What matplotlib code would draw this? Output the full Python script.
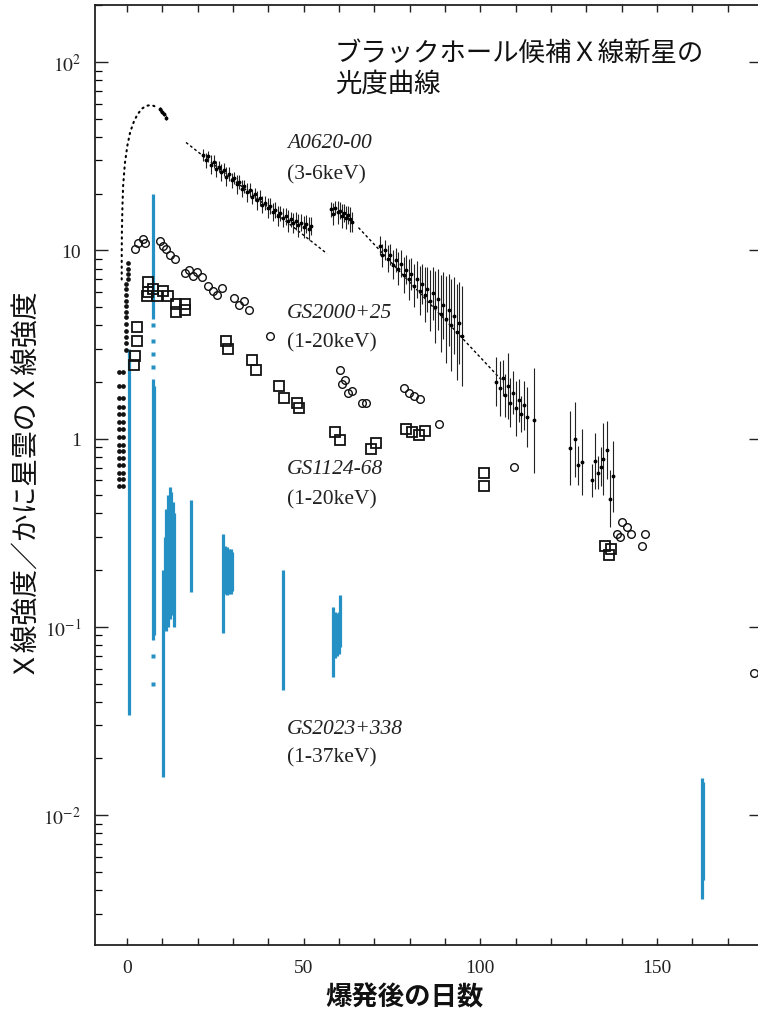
import numpy as np
import matplotlib
matplotlib.use("Agg")
import matplotlib.pyplot as plt
from matplotlib.ticker import FixedLocator, FixedFormatter, LogLocator, NullFormatter

plt.rcParams["font.family"] = ["Liberation Serif", "DejaVu Serif"]
plt.rcParams["mathtext.fontset"] = "stix"

JP = ["Noto Sans CJK JP", "DejaVu Sans"]
BLUE = "#2490c4"

# ---------------- A0620-00 (3-6 keV) ----------------
a0620_rise_day = [-1.5, -1.5, -1.45, -1.3, -1.1, -0.6, 0.1, 0.9, 1.9, 2.9, 4.2, 5.4, 6.5, 7.6, 8.6]
a0620_rise_flux = [7.0, 9.5, 12.5, 17.0, 22.0, 29.0, 36.0, 42.5, 48.0, 52.5, 56.5, 58.5, 59.0, 58.5, 57.0]

a0620_fit1_day = [16.7, 56.6]
a0620_fit1_flux = [37.4, 9.6]
a0620_fit2_day = [65.5, 106.5]
a0620_fit2_flux = [13.2, 2.0]

a0620_day = [
    9.3, 9.9, 10.5, 11.1,
    21.5, 22.3, 23.0, 23.8, 24.5, 25.2, 26.0, 26.7, 27.4, 28.1, 28.9, 29.6, 30.3, 31.0,
    31.8, 32.5, 33.2, 34.0, 34.7, 35.4, 36.1, 36.9, 37.6, 38.3, 39.0, 39.8, 40.5, 41.2,
    42.0, 42.7, 43.4, 44.1, 44.9, 45.6, 46.3, 47.0, 47.8, 48.5, 49.2, 50.0, 50.7, 51.4, 52.1,
    57.8, 58.4, 59.0, 59.6, 60.2, 60.8, 61.4, 62.0, 62.6, 63.2, 63.8,
    71.5, 72.3, 73.0, 73.8, 74.5, 75.3, 76.0, 76.8, 77.5, 78.3, 79.0, 79.8, 80.5, 81.3,
    82.0, 82.8, 83.5, 84.3, 85.0, 85.8, 86.5, 87.3, 88.0, 88.8, 89.5, 90.3, 91.0, 91.8,
    92.5, 93.3, 94.0, 94.8,
    104.5, 105.5, 106.3, 107.0, 107.8, 108.5, 109.3, 110.0, 110.8, 111.5, 112.3, 113.2, 115.3,
    125.5, 126.7, 127.5, 128.8, 131.6, 132.4, 133.2, 134.0, 134.8, 135.7, 136.8, 137.6,
]
a0620_flux = [
    56.0, 54.5, 53.0, 50.5,
    32.0, 30.0, 31.5, 28.5, 29.6, 27.0, 27.8, 25.9, 26.8, 24.6, 25.3, 23.5, 24.2, 22.4,
    23.0, 21.2, 21.9, 20.3, 20.9, 19.3, 19.8, 18.4, 18.9, 17.5, 17.9, 16.7, 17.2, 16.0,
    16.4, 15.3, 15.7, 14.9, 15.2, 14.3, 14.6, 13.9, 14.3, 13.6, 14.0, 13.3, 13.8, 13.0, 13.5,
    16.5, 15.6, 16.8, 15.9, 16.2, 15.2, 15.8, 14.9, 15.4, 14.6, 14.2,
    10.6, 9.4, 10.0, 9.0, 9.5, 8.4, 8.9, 8.0, 8.5, 7.4, 7.9, 7.0, 7.5, 6.5,
    7.0, 6.1, 6.6, 5.8, 6.2, 5.4, 5.9, 5.0, 5.5, 4.6, 5.1, 4.3, 4.8, 4.0,
    4.5, 3.7, 4.1, 3.5,
    2.0, 1.85, 2.1, 1.7, 1.9, 1.55, 1.75, 1.45, 1.6, 1.35, 1.5, 1.3, 1.25,
    0.89, 0.99, 0.72, 0.75, 0.60, 0.76, 0.66, 0.71, 0.78, 0.87, 0.48, 0.63,
]
# multiplicative error: bar spans flux/f .. flux*f
a0620_errfac = [
    1.03, 1.03, 1.03, 1.03,
    1.08, 1.10, 1.07, 1.12, 1.08, 1.10, 1.07, 1.11, 1.08, 1.12, 1.09, 1.10, 1.08, 1.12,
    1.09, 1.11, 1.08, 1.12, 1.09, 1.10, 1.08, 1.12, 1.10, 1.11, 1.09, 1.13, 1.10, 1.12,
    1.10, 1.13, 1.10, 1.12, 1.11, 1.14, 1.10, 1.13, 1.12, 1.15, 1.11, 1.14, 1.12, 1.15, 1.12,
    1.10, 1.14, 1.09, 1.15, 1.11, 1.16, 1.12, 1.15, 1.11, 1.16, 1.13,
    1.12, 1.15, 1.13, 1.18, 1.14, 1.20, 1.16, 1.22, 1.18, 1.25, 1.20, 1.28, 1.22, 1.30,
    1.25, 1.35, 1.28, 1.40, 1.32, 1.45, 1.38, 1.55, 1.45, 1.60, 1.50, 1.70, 1.55, 1.75,
    1.60, 1.80, 1.65, 1.85,
    1.35, 1.40, 1.25, 1.30, 1.50, 1.35, 1.30, 1.40, 1.30, 1.25, 1.35, 1.45, 1.90,
    1.58, 1.58, 1.27, 1.50, 1.22, 1.40, 1.22, 1.27, 1.55, 1.42, 1.42, 1.54,
]

# ---------------- GS2000+25 (1-20 keV) ----------------
gs2000_day = [
    2.3, 3.2, 4.6, 5.2, 9.3, 10.3, 11.0, 12.2, 13.6,
    16.4, 17.6, 18.6, 19.8, 21.2,
    22.8, 24.2, 25.6, 26.8, 30.2, 31.6, 33.0, 34.4,
    40.5, 60.4, 60.9, 61.6, 62.6, 63.6, 66.5, 67.6,
    78.4, 79.8, 81.2, 82.8, 88.4, 109.6,
    138.7, 139.5, 140.1, 141.4, 142.5, 145.8, 146.6, 177.3,
]
gs2000_flux = [
    10.1, 11.0, 11.5, 11.0, 11.2, 10.6, 10.2, 9.5, 9.0,
    7.6, 7.9, 7.3, 7.7, 7.2,
    6.5, 6.1, 5.8, 6.3, 5.6, 5.1, 5.4, 4.8,
    3.5, 2.3, 1.95, 2.05, 1.75, 1.8, 1.55, 1.55,
    1.85, 1.75, 1.68, 1.62, 1.2, 0.71,
    0.31, 0.30, 0.36, 0.34, 0.31, 0.27, 0.31, 0.057,
]
gs2000_rise_day = [
    -2.4, -1.0, -2.4, -1.0, -2.4, -1.0, -2.4, -1.0, -2.4, -1.0, -2.4, -1.0,
    -2.4, -1.0, -2.4, -1.0, -2.4, -1.0, -2.4, -1.0, -2.4, -1.0, -2.4, -1.0,
    -2.4, -1.0, -2.4, -1.0, -2.4, -1.0,
    -0.4, -0.4, -0.4, -0.4, -0.4, -0.4, -0.4, -0.4, -0.4, -0.4, -0.4, -0.4,
    0.3, 0.3, 0.3, 0.3,
]
gs2000_rise_flux = [
    0.56, 0.56, 0.61, 0.61, 0.66, 0.66, 0.72, 0.72, 0.79, 0.79, 0.86, 0.86,
    0.93, 0.93, 1.02, 1.02, 1.12, 1.12, 1.22, 1.22, 1.35, 1.35, 1.48, 1.48,
    1.65, 1.65, 1.90, 1.90, 2.25, 2.25,
    2.95, 3.2, 3.45, 3.75, 4.05, 4.4, 4.7, 5.05, 5.4, 5.8, 6.2, 6.6,
    7.0, 7.5, 8.0, 8.6,
]

# ---------------- GS1124-68 (1-20 keV) ----------------
gs1124_day = [
    2.7, 2.7, 2.3, 2.0, 6.0, 6.0, 7.4, 5.6, 8.4, 10.3, 11.7, 14.0, 16.4, 14.0, 16.4,
    28.0, 28.6, 35.5, 36.5, 43.0, 44.4, 48.0, 48.8, 59.0, 60.4, 69.0, 70.6,
    79.0, 80.6, 82.6, 84.4, 101.0, 101.0, 135.3, 136.5, 137.0,
]
gs1124_flux = [
    3.9, 3.3, 2.75, 2.45, 6.8, 6.0, 6.2, 5.7, 5.7, 6.1, 5.7, 5.2, 5.2, 4.7, 4.8,
    3.3, 3.0, 2.6, 2.3, 1.9, 1.65, 1.55, 1.45, 1.08, 0.98, 0.88, 0.95,
    1.12, 1.08, 1.05, 1.1, 0.66, 0.56, 0.27, 0.24, 0.26,
]

# ---------------- GS2023+338 (1-37 keV) ----------------
gs2023_day = [0.7, 7.4, 7.25, 7.55, 10.2, 10.7, 11.15, 11.6, 12.05, 12.5, 12.95, 13.4,
              18.2, 27.2, 27.8, 28.3, 28.8, 29.3, 29.7, 44.2,
              58.4, 58.9, 59.4, 59.9, 60.4, 162.7, 163.0]
gs2023_lo = [0.034, 4.3, 0.085, 0.09, 0.016, 0.10, 0.095, 0.10, 0.11, 0.115, 0.12, 0.10,
             0.153, 0.093, 0.15, 0.148, 0.15, 0.15, 0.155, 0.046,
             0.054, 0.068, 0.070, 0.072, 0.078, 0.0036, 0.0045]
gs2023_hi = [3.0, 20.0, 2.06, 1.9, 0.20, 0.30, 0.42, 0.50, 0.55, 0.52, 0.46, 0.40,
             0.47, 0.31, 0.27, 0.265, 0.26, 0.26, 0.25, 0.20,
             0.128, 0.12, 0.118, 0.12, 0.148, 0.0157, 0.0150]
gs2023_pt_day = [7.4, 7.4, 7.4, 7.4, 7.4, 7.4]
gs2023_pt_flux = [4.0, 3.3, 2.8, 2.4, 0.070, 0.050]

# ---------------- figure ----------------
fig = plt.figure(figsize=(7.58, 10.12), dpi=100)
ax = fig.add_axes([95 / 758, 66 / 1012, 667 / 758, 940 / 1012])
ax.set_yscale("log")
ax.set_xlim(-9.06, 179.7)
ax.set_ylim(10 ** -2.69, 10 ** 2.303)

# GS2023+338 streaks
ax.vlines(gs2023_day, gs2023_lo, gs2023_hi, colors=BLUE, linewidth=2.3, zorder=2)
ax.plot(gs2023_pt_day, gs2023_pt_flux, "s", ms=2.2, color=BLUE, mec="none", zorder=2)

# A0620-00
ax.plot(a0620_rise_day, a0620_rise_flux, color="k", lw=1.5,
        linestyle=(0, (0.6, 2.2)), dash_capstyle="round", zorder=3)
ax.plot(a0620_fit1_day, a0620_fit1_flux, color="k", lw=1.0, linestyle=(0, (2, 1.8)), zorder=3)
ax.plot(a0620_fit2_day, a0620_fit2_flux, color="k", lw=1.0, linestyle=(0, (2, 1.8)), zorder=3)
a_day = np.array(a0620_day)
a_flux = np.array(a0620_flux)
a_k = np.array(a0620_errfac)
ax.errorbar(a_day, a_flux, yerr=[a_flux - a_flux / a_k, a_flux * a_k - a_flux],
            fmt=".", ms=3.5, color="k", ecolor="#222222", elinewidth=0.8, capsize=0, zorder=4)

# GS2000+25
ax.plot(gs2000_rise_day, gs2000_rise_flux, "o", ms=3.4, color="#111111", mec="none", zorder=4)
ax.plot(gs2000_day, gs2000_flux, "o", ms=5.5, mfc="none", mec="#111111", mew=1.0,
        linestyle="none", zorder=4)

# GS1124-68
ax.plot(gs1124_day, gs1124_flux, "s", ms=7.5, mfc="none", mec="#111111", mew=1.3,
        linestyle="none", zorder=4)

# axes styling
for s in ax.spines.values():
    s.set_linewidth(1.3)
    s.set_color("#222222")

xt = np.arange(0, 180, 10)
ax.xaxis.set_major_locator(FixedLocator(xt))
ax.xaxis.set_major_formatter(FixedFormatter([str(v) if v % 50 == 0 else "" for v in xt]))
ax.tick_params(axis="x", which="major", direction="in", length=5, width=1.0,
               top=True, bottom=True, pad=10, labelsize=14, colors="#222222")

ydec = [1e-2, 1e-1, 1, 10, 100]
ax.yaxis.set_major_locator(FixedLocator(ydec))
ax.yaxis.set_major_formatter(FixedFormatter([r"$10^{-2}$", r"$10^{-1}$", "1", "10", r"$10^{2}$"]))
ax.yaxis.set_minor_locator(LogLocator(base=10, subs=np.arange(2, 10), numticks=20))
ax.yaxis.set_minor_formatter(NullFormatter())
ax.tick_params(axis="y", which="major", direction="in", length=9.5, width=1.0,
               left=True, right=True, pad=10, labelsize=14, colors="#222222")
ax.tick_params(axis="y", which="minor", direction="in", length=5, width=0.9,
               left=True, right=False)

# labels
fig.text(335 / 758, 1 - 53 / 1012, "ブラックホール候補Ｘ線新星の", family=JP,
         fontsize=19, ha="left", va="center", color="#111111")
fig.text(335 / 758, 1 - 84 / 1012, "光度曲線", family=JP,
         fontsize=19, ha="left", va="center", color="#111111")
fig.text(22 / 758, 1 - 480 / 1012, "Ｘ線強度／かに星雲のＸ線強度", family=JP,
         fontsize=20, rotation=90, ha="center", va="center", color="#111111")
fig.text(405 / 758, 1 - 998 / 1012, "爆発後の日数", family=JP,
         fontsize=19, fontweight="bold", ha="center", va="center", color="#111111")

series_labels = [
    ("A0620-00", "(3-6keV)", 144, 175),
    ("GS2000+25", "(1-20keV)", 314, 343),
    ("GS1124-68", "(1-20keV)", 470, 500),
    ("GS2023+338", "(1-37keV)", 730, 758),
]
for name, band, yn, yb in series_labels:
    fig.text(287 / 758, 1 - yn / 1012, name, fontsize=15.5, style="italic",
             ha="left", va="center", color="#222222")
    fig.text(287 / 758, 1 - yb / 1012, band, fontsize=15.5,
             ha="left", va="center", color="#222222")

fig.savefig("out.png", dpi=100, facecolor="white")
